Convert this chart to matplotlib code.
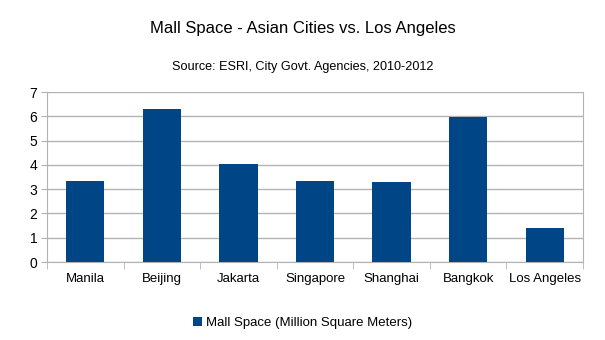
import numpy as np
from matplotlib import pyplot as plt

plt.rcParams['font.family'] = ['Liberation Sans', 'DejaVu Sans']

cities = ["Manila", "Beijing", "Jakarta", "Singapore", "Shanghai", "Bangkok", "Los Angeles"]
mall_space = [3.33, 6.32, 4.02, 3.35, 3.28, 5.98, 1.42]
series_name = "Mall Space (Million Square Meters)"

bar_color = "#004586"
grid_color = "#b3b3b3"

fig = plt.figure(figsize=(6.05, 3.4), dpi=100)
ax = fig.add_axes([47 / 605, 1 - 262 / 340, (583 - 47) / 605, (262 - 92) / 340])

x = np.arange(len(cities))
ax.bar(x, mall_space, width=0.5, color=bar_color, label=series_name, zorder=3)

ax.set_xlim(-0.5, len(cities) - 0.5)
ax.set_ylim(0, 7)
ax.set_yticks(range(0, 8))
ax.yaxis.grid(True, color=grid_color, linewidth=1, zorder=0)

ax.set_xticks(x)
ax.set_xticklabels(cities)
ax.set_xticks(np.arange(-0.5, len(cities)), minor=True)
ax.tick_params(axis='x', which='major', length=0, pad=8, labelsize=9.5)
ax.tick_params(axis='x', which='minor', length=5, color=grid_color, direction='out')
ax.tick_params(axis='y', length=4, color=grid_color, labelsize=10, pad=3)

for side in ['left', 'right', 'top', 'bottom']:
    ax.spines[side].set_color(grid_color)
ax.spines['top'].set_visible(False)

fig.text(0.5, 1 - 28 / 340, "Mall Space - Asian Cities vs. Los Angeles",
         ha='center', va='center', fontsize=12)
fig.text(0.5, 1 - 67 / 340, "Source: ESRI, City Govt. Agencies, 2010-2012",
         ha='center', va='center', fontsize=9.1)

fig.legend(loc='center', bbox_to_anchor=(0.5, 1 - 323 / 340), frameon=False,
           fontsize=9.5, handlelength=0.7, handleheight=0.7, handletextpad=0.3)

plt.savefig("out.png")
